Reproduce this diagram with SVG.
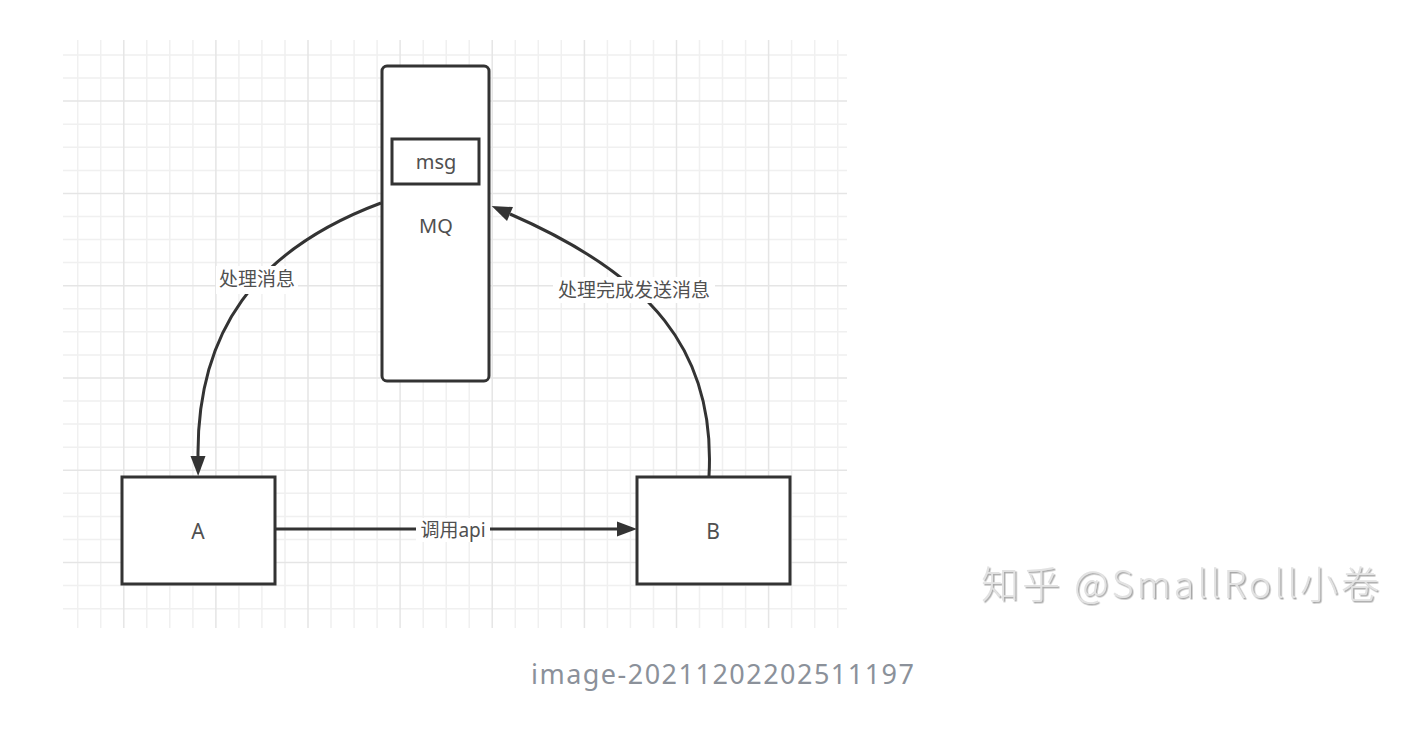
<svg xmlns="http://www.w3.org/2000/svg" width="1414" height="732" viewBox="0 0 1414 732">
<style>
.gmin{stroke:#f0f0f0;stroke-width:1.5;fill:none}
.gmaj{stroke:#e5e5e5;stroke-width:1.5;fill:none}
.box{fill:#ffffff;stroke:#333333;stroke-width:3}
.edge{fill:none;stroke:#333333;stroke-width:3}
.lbl{font-family:"Noto Sans","Noto Sans CJK SC",sans-serif;fill:#505050;text-anchor:middle;dominant-baseline:central}
.lblbg{fill:#ffffff}
</style>
<defs>
<marker id="arr" markerUnits="userSpaceOnUse" markerWidth="22" markerHeight="16" refX="0" refY="7.5" orient="auto" overflow="visible">
<path d="M0,0 L20,7.5 L0,15 Z" fill="#333333"/>
</marker>
<filter id="emboss" x="-5%" y="-20%" width="110%" height="140%">
<feDropShadow dx="1.5" dy="1.5" stdDeviation="0.6" flood-color="#a8a8a8"/>
</filter>
</defs>
<rect width="1414" height="732" fill="#ffffff"/>
<g id="grid">
<path class="gmin" d="M77.7 40V628M100.7 40V628M146.8 40V628M169.8 40V628M192.9 40V628M238.9 40V628M261.9 40V628M285 40V628M331 40V628M354.1 40V628M377.1 40V628M423.2 40V628M446.2 40V628M469.2 40V628M515.3 40V628M538.3 40V628M561.3 40V628M607.4 40V628M630.4 40V628M653.5 40V628M699.5 40V628M722.5 40V628M745.6 40V628M791.6 40V628M814.7 40V628M837.7 40V628
M63 55H847M63 78.1H847M63 124.2H847M63 147.3H847M63 170.4H847M63 216.5H847M63 239.6H847M63 262.6H847M63 308.8H847M63 331.8H847M63 354.9H847M63 401.1H847M63 424.1H847M63 447.2H847M63 493.3H847M63 516.4H847M63 539.5H847M63 585.6H847M63 608.7H847"/>
<path class="gmaj" d="M123.8 40V628M215.9 40V628M308 40V628M400.1 40V628M492.2 40V628M584.4 40V628M676.5 40V628M768.6 40V628
M63 101.1H847M63 193.4H847M63 285.7H847M63 378H847M63 470.3H847M63 562.5H847"/>
</g>
<g id="connectors">
<path id="edge-mq-a" class="edge" d="M381 203 C255 250, 197 332, 198 456" marker-end="url(#arr)"/>
<path id="edge-b-mq" class="edge" d="M709 476 C716 350, 650 275, 510 214" marker-end="url(#arr)"/>
<path id="edge-a-b" class="edge" d="M275 529 H617" marker-end="url(#arr)"/>
<g id="edge-labels">
<rect class="lblbg" x="216" y="266" width="82" height="28"/>
<text class="lbl" x="257" y="279" font-size="19">处理消息</text>
<rect class="lblbg" x="553" y="277" width="162" height="26"/>
<text class="lbl" x="634" y="290" font-size="19">处理完成发送消息</text>
<rect class="lblbg" x="416" y="518" width="74" height="24"/>
<text class="lbl" x="453" y="530" font-size="19">调用api</text>
</g>
</g>
<g id="node-mq">
<rect class="box" x="382" y="66" width="107" height="315" rx="5" ry="5"/>
<text class="lbl" x="436" y="225" font-size="20">MQ</text>
</g>
<g id="node-msg">
<rect class="box" x="392" y="139" width="87" height="45"/>
<text class="lbl" x="436" y="161" font-size="20">msg</text>
</g>
<g id="node-a">
<rect class="box" x="122" y="477" width="153" height="107"/>
<text class="lbl" x="198" y="531" font-size="21">A</text>
</g>
<g id="node-b">
<rect class="box" x="637" y="477" width="153" height="107"/>
<text class="lbl" x="713" y="531" font-size="21">B</text>
</g>
<g id="watermark">
<text x="981" y="598" font-family="Noto Sans CJK SC, sans-serif" font-size="38" font-weight="300" fill="#e2e2e2" filter="url(#emboss)" textLength="398" lengthAdjust="spacing">知乎 @SmallRoll小卷</text>
</g>
<g id="caption">
<text x="531" y="684" font-family="Noto Sans, sans-serif" font-size="27" fill="#8b919a" textLength="383" lengthAdjust="spacing">image-20211202202511197</text>
</g>
</svg>
